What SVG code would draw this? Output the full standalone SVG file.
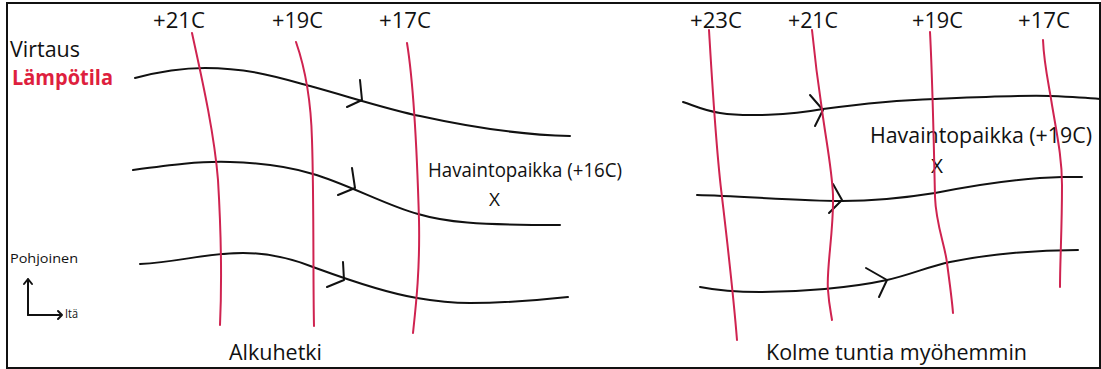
<svg xmlns="http://www.w3.org/2000/svg" width="1101" height="369" viewBox="0 0 1101 369">
<style>
.t{font-family:"Open Sans","Noto Sans","Liberation Sans",sans-serif;fill:#111}
.flow{fill:none;stroke:#111;stroke-width:2;stroke-linecap:round}
.iso{fill:none;stroke:#cf2350;stroke-width:2;stroke-linecap:round}
.ah{fill:none;stroke:#111;stroke-width:2;stroke-linecap:round;stroke-linejoin:round}
</style>
<rect x="7" y="3" width="1093" height="365" fill="#fff" stroke="#111" stroke-width="2"/>

<g id="legend">
<text class="t" x="10" y="57" font-size="21" textLength="70" lengthAdjust="spacingAndGlyphs">Virtaus</text>
<text class="t" x="12" y="85" font-size="21" font-weight="bold" style="fill:#de1f3e" textLength="101" lengthAdjust="spacingAndGlyphs">Lämpötila</text>
</g>

<g id="compass">
<text class="t" x="10" y="263" font-size="13" textLength="68" lengthAdjust="spacingAndGlyphs">Pohjoinen</text>
<path class="ah" d="M28,315 L28,279 M24,284 L28,279 L32,284"/>
<path class="ah" d="M28,315 L62,315 M58,311 L62,315 L58,319"/>
<text class="t" x="65" y="318" font-size="12" textLength="13" lengthAdjust="spacingAndGlyphs">Itä</text>
</g>

<g id="left-labels">
<text class="t" x="153" y="28" font-size="22" textLength="52" lengthAdjust="spacingAndGlyphs">+21C</text>
<text class="t" x="272" y="28" font-size="22" textLength="51" lengthAdjust="spacingAndGlyphs">+19C</text>
<text class="t" x="379" y="28" font-size="22" textLength="52" lengthAdjust="spacingAndGlyphs">+17C</text>
<text class="t" x="428" y="177" font-size="20" textLength="194" lengthAdjust="spacingAndGlyphs">Havaintopaikka (+16C)</text>
<text class="t" x="489" y="206" font-size="19" textLength="11" lengthAdjust="spacingAndGlyphs">X</text>
<text class="t" x="229" y="360" font-size="22" textLength="93" lengthAdjust="spacingAndGlyphs">Alkuhetki</text>
</g>

<g id="right-labels">
<text class="t" x="690" y="28" font-size="22" textLength="52" lengthAdjust="spacingAndGlyphs">+23C</text>
<text class="t" x="788" y="28" font-size="22" textLength="50" lengthAdjust="spacingAndGlyphs">+21C</text>
<text class="t" x="912" y="28" font-size="22" textLength="51" lengthAdjust="spacingAndGlyphs">+19C</text>
<text class="t" x="1018" y="28" font-size="22" textLength="52" lengthAdjust="spacingAndGlyphs">+17C</text>
<text class="t" x="870" y="143" font-size="21" textLength="222" lengthAdjust="spacingAndGlyphs">Havaintopaikka (+19C)</text>
<text class="t" x="931" y="173" font-size="20" textLength="12" lengthAdjust="spacingAndGlyphs">X</text>
<text class="t" x="766" y="360" font-size="22" textLength="261" lengthAdjust="spacingAndGlyphs">Kolme tuntia myöhemmin</text>
</g>

<g id="connectors">
<path class="flow" d="M135,78 C165,70 185,68 205,68 C250,68 280,78 310,86 C350,97 390,110 420,116 C470,127 520,135 570,136"/>
<path class="ah" d="M360,80 L362,100 L347,107"/>
<path class="flow" d="M133,170 C170,165 200,161 230,162 C265,163 290,167 313,174 C345,183 390,207 418,214 C445,222 475,225 560,225"/>
<path class="ah" d="M352,168 L355,188 L338,195"/>
<path class="flow" d="M140,264 C180,262 205,253 243,253 C270,253 295,260 313,267 C335,275 380,292 417,298 C440,302 455,303 470,303 C510,303 540,300 568,297"/>
<path class="ah" d="M343,262 L344,280 L327,287"/>
<path class="flow" d="M683,102 C695,106 705,111 720,113 C745,117 790,115 823,109 C860,104 900,100 935,99 C980,97 1020,95 1050,96 C1075,97 1090,98 1100,99"/>
<path class="ah" d="M810,95 L823,110 L815,126"/>
<path class="flow" d="M697,195 C740,196 800,201 842,201 C880,201 910,197 935,193 C970,186 1020,178 1062,177 L1082,177"/>
<path class="ah" d="M833,184 L842,200 L829,213"/>
<path class="flow" d="M700,287 C715,290 730,292 760,292 C800,292 850,288 887,280 C910,275 930,266 950,262 C990,254 1030,250 1078,250"/>
<path class="ah" d="M866,268 L887,280 L879,297"/>
</g>

<g id="isotherms">
<path class="iso" d="M192,33 C200,70 214,130 218,180 C221,230 222,280 220,325"/>
<path class="iso" d="M296,42 C304,65 311,100 312,140 C314,200 313,280 314,326"/>
<path class="iso" d="M407,43 C413,80 417,150 419,220 C420,270 416,305 413,333"/>
<path class="iso" d="M709,30 C712,80 716,150 722,197 C727,240 733,290 737,340"/>
<path class="iso" d="M812,30 C815,60 819,90 822,110 C826,140 832,170 833,195 C834,230 826,270 828,290 C829,305 831,313 832,320"/>
<path class="iso" d="M930,32 C932,70 934,150 935,197 C936,225 945,245 947,263 C950,285 952,300 953,313"/>
<path class="iso" d="M1043,40 C1044,65 1049,85 1052,105 C1058,140 1062,160 1062,185 C1062,230 1060,260 1060,287"/>
</g>
</svg>
